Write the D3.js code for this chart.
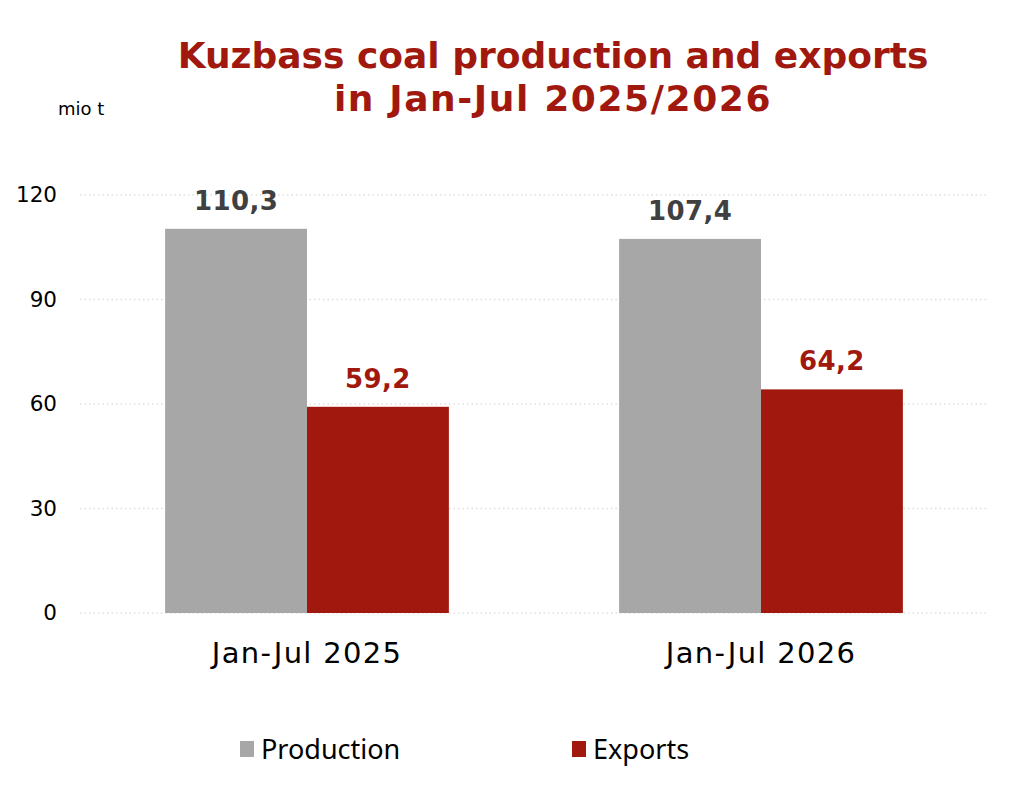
<!DOCTYPE html>
<html>
<head>
<meta charset="utf-8">
<script src="https://cdn.jsdelivr.net/npm/d3@7"></script>
<style>
  body { margin: 0; background: #fff; }
  svg { display: block; }
  svg text { font-family: 'DejaVu Sans', Verdana, sans-serif; }
  svg text.legend-label { font-family: 'Noto Sans', sans-serif; }
</style>
</head>
<body>
<svg id="chart"></svg>
<script>
const periods = ['Jan-Jul 2025', 'Jan-Jul 2026'];
const seriesNames = ['Production', 'Exports'];
const production = [110.3, 107.4];
const exportsVals = [59.2, 64.2];
const yTicks = [0, 30, 60, 90, 120];
const titleLines = ['Kuzbass coal production and exports', 'in Jan-Jul 2025/2026'];
const unitLabel = 'mio t';

const width = 1024;
const height = 807;
const colors = { Production: '#a6a7a6', Exports: '#a0180e' };
const labelColors = { Production: '#404040', Exports: '#a0180e' };

const svg = d3.select('#chart')
    .attr('width', width)
    .attr('height', height);

const plot = { left: 80, right: 988, top: 195, bottom: 613 };

const x0 = d3.scaleBand().domain(periods).range([plot.left, plot.right]);
const x1 = d3.scaleBand().domain(seriesNames)
    .range([0, x0.bandwidth()]).paddingOuter(0.6);
const y = d3.scaleLinear().domain([0, 120]).range([plot.bottom, plot.top]);

// title (second line a bit wider, like the Verdana digits)
svg.append('g').selectAll('text')
    .data(titleLines)
    .join('text')
    .attr('x', 553)
    .attr('y', (d, i) => 68 + i * 43)
    .attr('text-anchor', 'middle')
    .attr('font-weight', 'bold')
    .attr('font-size', 36)
    .attr('letter-spacing', (d, i) => i ? 1.6 : 0)
    .attr('fill', '#a0180e')
    .text(d => d);

svg.append('text')
    .attr('x', 58)
    .attr('y', 115)
    .attr('font-size', 18)
    .attr('fill', '#000')
    .text(unitLabel);

// grid
svg.append('g').selectAll('line')
    .data(yTicks)
    .join('line')
    .attr('x1', plot.left)
    .attr('x2', plot.right)
    .attr('y1', d => y(d))
    .attr('y2', d => y(d))
    .attr('stroke', '#dedede')
    .attr('stroke-width', 1.3)
    .attr('stroke-dasharray', '1.5,3');

// y axis labels
const yAxis = d3.axisLeft(y).tickValues(yTicks).tickSize(0).tickPadding(0);
svg.append('g')
    .attr('transform', `translate(57,0)`)
    .call(yAxis)
    .call(g => g.select('.domain').remove())
    .call(g => g.selectAll('text')
        .attr('font-size', 21.5)
        .attr('fill', '#000'));

// bars
const rows = periods.map((p, i) => ({
    period: p,
    values: [
        { name: 'Production', value: production[i] },
        { name: 'Exports', value: exportsVals[i] }
    ]
}));

const groups = svg.append('g').selectAll('g')
    .data(rows)
    .join('g')
    .attr('transform', d => `translate(${x0(d.period)},0)`);

groups.selectAll('rect')
    .data(d => d.values)
    .join('rect')
    .attr('x', d => x1(d.name))
    .attr('y', d => y(d.value))
    .attr('width', x1.bandwidth())
    .attr('height', d => y(0) - y(d.value))
    .attr('fill', d => colors[d.name]);

groups.selectAll('text.val')
    .data(d => d.values)
    .join('text')
    .attr('class', 'val')
    .attr('x', d => x1(d.name) + x1.bandwidth() / 2)
    .attr('y', d => y(d.value) - 19)
    .attr('text-anchor', 'middle')
    .attr('font-weight', 'bold')
    .attr('font-size', 26)
    .attr('letter-spacing', 0.4)
    .attr('fill', d => labelColors[d.name])
    .text(d => d3.format('.1f')(d.value).replace('.', ','));

// x axis labels
const xAxis = d3.axisBottom(x0).tickSize(0).tickPadding(0);
svg.append('g')
    .attr('transform', `translate(0,663)`)
    .call(xAxis)
    .call(g => g.select('.domain').remove())
    .call(g => g.selectAll('text')
        .attr('dy', null)
        .attr('font-size', 29)
        .attr('letter-spacing', 1.3)
        .attr('fill', '#000'));

// legend
const legendX = { Production: 240, Exports: 572 };
const legend = svg.append('g').selectAll('g')
    .data(seriesNames)
    .join('g')
    .attr('transform', d => `translate(${legendX[d]},741)`);

legend.append('rect')
    .attr('width', 14)
    .attr('height', 16)
    .attr('fill', d => colors[d]);

legend.append('text')
    .attr('class', 'legend-label')
    .attr('x', 21)
    .attr('y', 18)
    .attr('font-size', 27)
    .attr('fill', '#000')
    .text(d => d);
</script>
</body>
</html>
